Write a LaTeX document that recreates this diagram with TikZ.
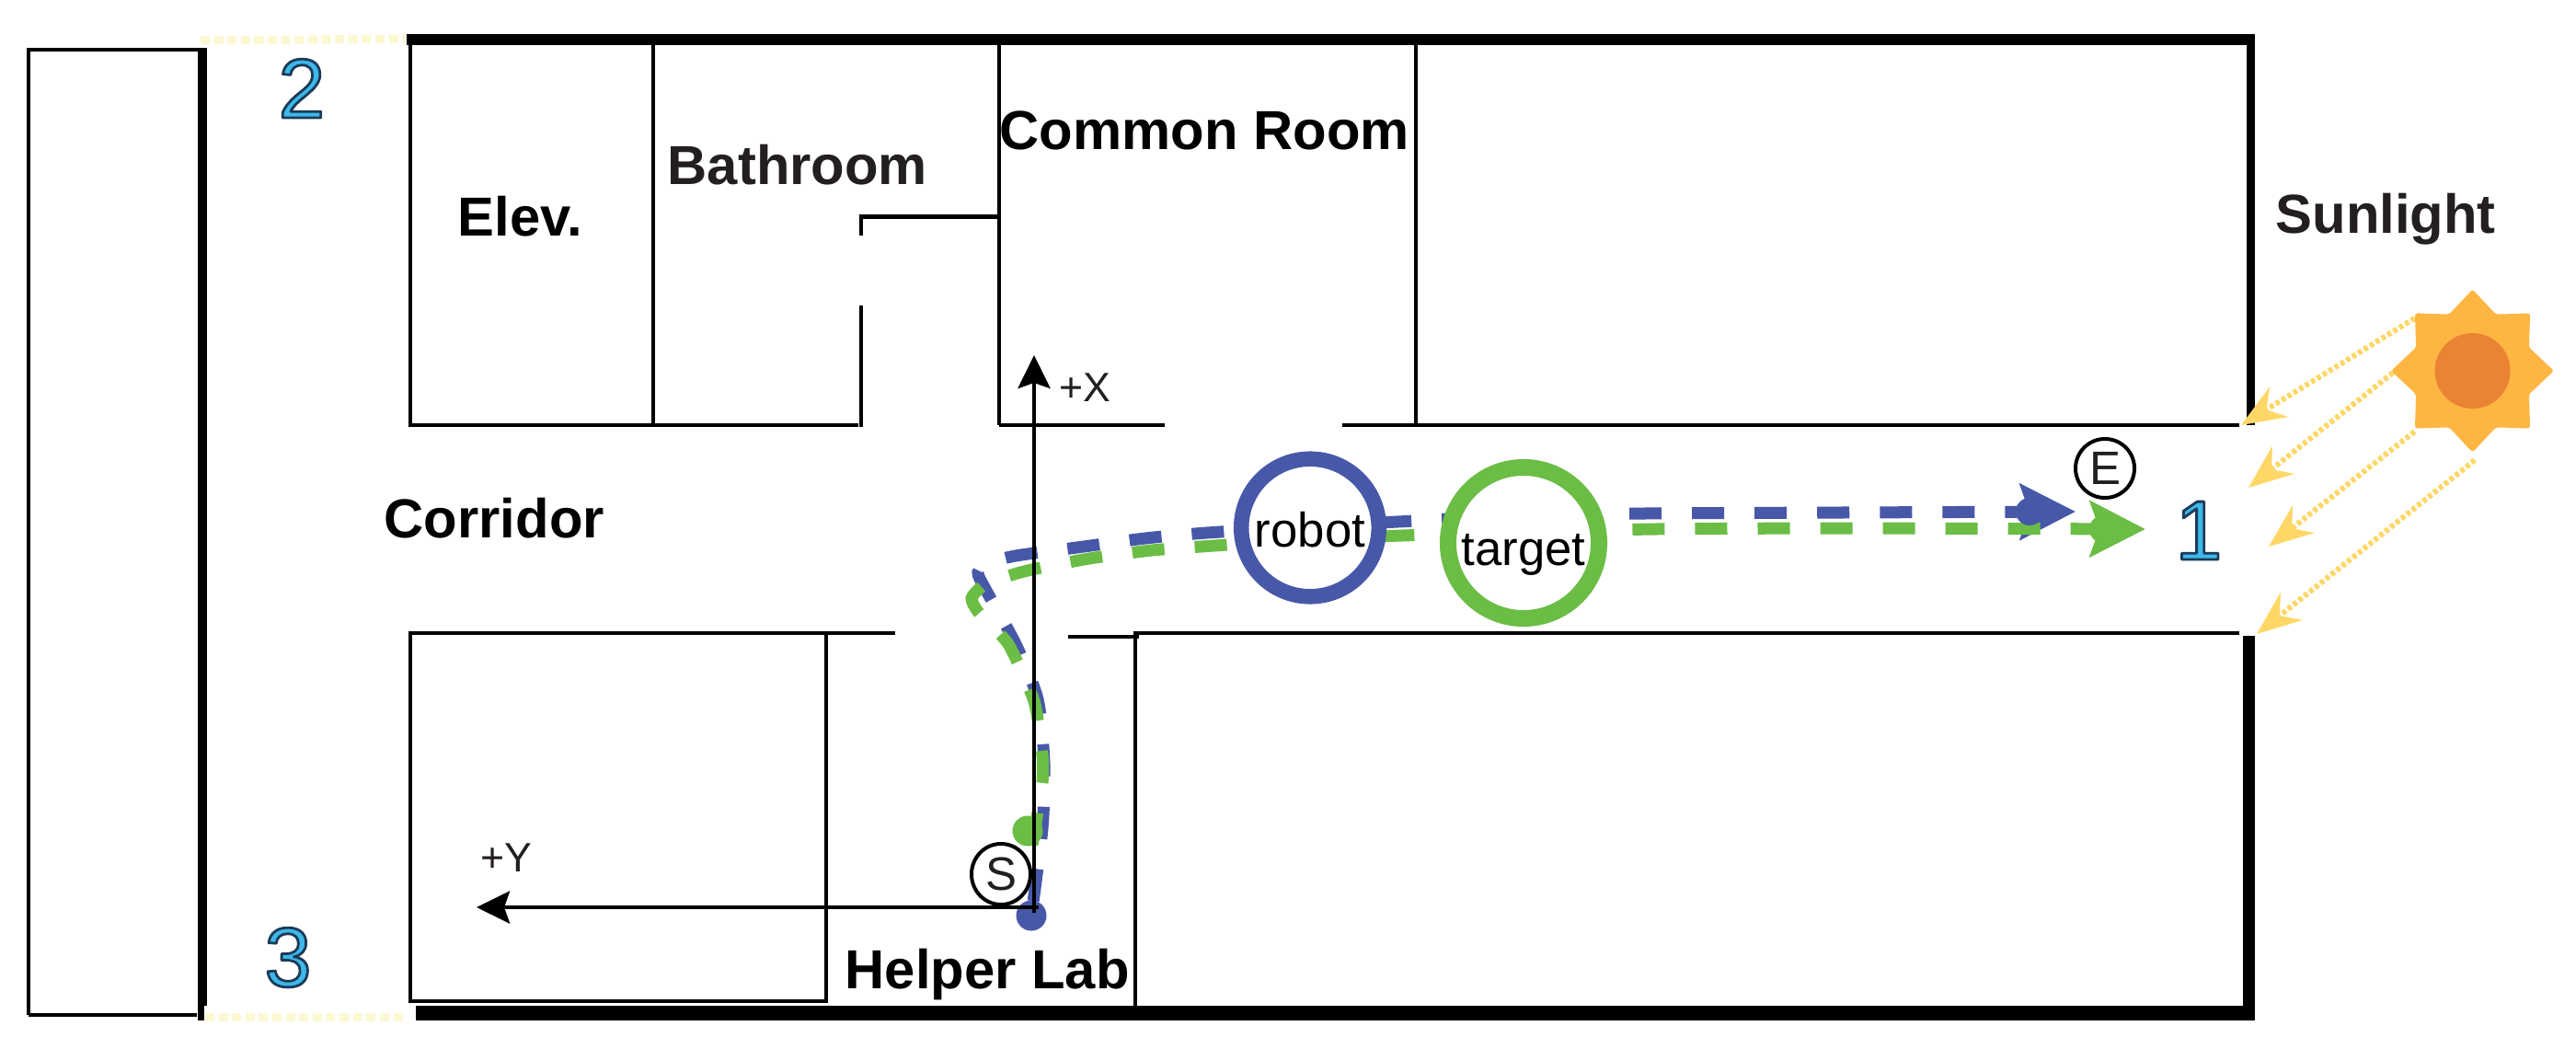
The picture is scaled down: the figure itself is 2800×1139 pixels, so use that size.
\documentclass[tikz,border=0pt]{standalone}
\usepackage{fontspec}
\setmainfont{Liberation Sans}
\usetikzlibrary{arrows.meta,shapes.geometric}

\definecolor{robotblue}{HTML}{4858A8}
\definecolor{targetgreen}{HTML}{6BBD45}
\definecolor{sunbody}{HTML}{FDB642}
\definecolor{suncore}{HTML}{EB8334}
\definecolor{rayyellow}{HTML}{FFD766}
\definecolor{opencream}{HTML}{FBF8D2}
\definecolor{spotblue}{HTML}{3DB8EA}
\definecolor{inkgray}{HTML}{231F20}

\begin{document}
\begin{tikzpicture}[x=0.01cm,y=-0.01cm]
    \tikzstyle{wall}=[draw,black,line width=0.045cm]
    \tikzstyle{thickwall}=[draw,black,line width=0.12cm]
    \tikzstyle{opening}=[draw,opencream,line width=0.09cm,dash pattern=on 0.1cm off 0.046cm]
    \tikzstyle{axis}=[draw,black,line width=0.047cm,-{Stealth[length=0.36cm,width=0.35cm,inset=0.06cm]}]
    \tikzstyle{ray}=[draw,rayyellow,line width=0.06cm,dash pattern=on 0.045cm off 0.03cm,-{Stealth[length=0.48cm,width=0.38cm,inset=0.16cm]}]
    \tikzstyle{route}=[line width=0.13cm,dash pattern=on 0.35cm off 0.33cm,-{Stealth[length=0.6cm,width=0.6cm,inset=0.1cm]}]
    \tikzstyle{dot}=[circle,inner sep=0,minimum size=0.33cm]
    \tikzstyle{agent}=[circle,draw,fill=white,inner sep=0,font=\fontsize{15}{18}\selectfont]
    \tikzstyle{endpoint}=[ellipse,draw,fill=white,inner sep=0,line width=0.04cm,text=inkgray,font=\fontsize{14.5}{17}\selectfont]
    \tikzstyle{room}=[inner sep=0,anchor=base west,font=\bfseries\fontsize{17}{20}\selectfont]
    \tikzstyle{axlabel}=[inner sep=0,anchor=base west,text=inkgray,font=\fontsize{12.7}{15}\selectfont]
    \tikzstyle{spot}=[inner sep=0,anchor=base,text=spotblue,font=\fontsize{26}{30}\selectfont]
    \newcommand{\outlined}[1]{\special{pdf:code q 2 Tr 1 j 0.8 w 0.11 0.23 0.34 RG}#1\special{pdf:code Q}}
    \newcommand{\sunray}[3]{
        \coordinate (#1a) at (#2);
        \coordinate (#1b) at (#3);
        \path[ray] (#1a) -- (#1b);
    }

    \useasboundingbox (0,0) rectangle (2800,1139);

    % openings at the corridor ends
    \path[opening] (218,44) -- (440,42);
    \path[opening] (223,1105) -- (442,1105);

    % outer building
    \path[wall] (31,1103) -- (31,54) -- (218,54);
    \path[wall] (31,1103) -- (214,1103);
    \path[wall,line width=0.1cm] (220,52) -- (220,1093);
    \path[wall,line width=0.07cm] (218,1093) -- (218,1109);
    \path[thickwall] (442,43) -- (2451,43);
    \path[thickwall,line width=0.16cm] (452,1101) -- (2451,1101);
    \path[thickwall,line width=0.095cm] (2446.5,49) -- (2446.5,462);
    \path[thickwall,line width=0.13cm] (2444.5,691) -- (2444.5,1107);

    % upper rooms
    \path[wall] (446,49) -- (446,462) -- (933,462);
    \path[wall] (710,49) -- (710,462);
    \path[wall] (936,332) -- (936,464);
    \path[wall] (936,256) -- (936,235.5) -- (1086,235.5);
    \path[wall] (1086,49) -- (1086,462);
    \path[wall] (1086,462) -- (1266,462);
    \path[wall] (1459,462) -- (2434,462);
    \path[wall] (1539,49) -- (1539,462);

    % lower rooms
    \path[wall] (973,688) -- (446,688) -- (446,1088) -- (898,1088) -- (898,688);
    \path[wall] (1161,692) -- (1238,692);
    \path[wall] (2434,688) -- (1234,688) -- (1234,1093);

    % routes
    \coordinate (bstart) at (1121,995);
    \coordinate (bend) at (2256,556);
    \coordinate (gstart) at (1122,918);
    \coordinate (gend) at (2332,575);
    \path[route,draw=robotblue,dash phase=0.52cm] plot[smooth,tension=0.45] coordinates {(bstart) (1133,900) (1135,830) (1128,760) (1104,700) (1071,640) (1063,622) (1075,612) (1104,604) (1178,594) (1245,585) (1312,579) (1424,572) (1519,567) (1656,560) (1787,558) (2000,557) (bend)};
    \path[route,draw=targetgreen] plot[smooth,tension=0.35] coordinates {(gstart) (1133,850) (1133,820) (1124,762) (1096,700) (1064,666) (1056,650) (1072,634) (1117,620) (1184,607) (1252,598) (1320,593) (1424,586) (1524,582) (1656,578) (1800,575) (2000,574) (gend)};
    \node[dot,fill=robotblue] (bdot) at (1121,995) {};
    \node[dot,fill=targetgreen] (gdot) at (1117,903) {};
    \node[dot,fill=robotblue,minimum size=0.3cm] (bhead) at (2206,556) {};
    \node[dot,fill=targetgreen,minimum size=0.3cm] (ghead) at (2286,575) {};

    \node[agent,draw=robotblue,line width=0.165cm,minimum size=1.495cm,text height=12.2pt,text depth=0pt] (robot) at (1424,573.5) {robot};
    \node[agent,draw=targetgreen,line width=0.18cm,minimum size=1.64cm,text height=14.2pt,text depth=0pt] (target) at (1656,590) {target};

    % axes
    \coordinate (xorigin) at (1124,992);
    \coordinate (xtip) at (1124,386);
    \coordinate (yorigin) at (1129,986);
    \coordinate (ytip) at (518,986);
    \path[axis] (xorigin) -- (xtip);
    \path[axis] (yorigin) -- (ytip);
    \node[axlabel] (xlabel) at (1151,436) {+X};
    \node[axlabel] (ylabel) at (522,947) {+Y};

    \node[endpoint,minimum width=0.64cm,minimum height=0.66cm] (smark) at (1088,950) {S};
    \node[endpoint,minimum width=0.64cm,minimum height=0.64cm] (emark) at (2288,509) {E};

    % sun
    \sunray{rayone}{2631,342}{2436,462}
    \sunray{raytwo}{2601,405}{2444,530}
    \sunray{raythree}{2624.5,469}{2466,594}
    \sunray{rayfour}{2690,500}{2453,689}
    \node[star,star points=8,star point ratio=1.333,fill=sunbody,inner sep=0,minimum size=1.77cm,rounded corners=0.03cm] (sun) at (2687.5,403) {};
    \node[circle,fill=suncore,inner sep=0,minimum size=0.82cm] (suncorenode) at (2687.5,403) {};

    % labels
    \node[room] (elev) at (497,256) {Elev.};
    \node[room,text=inkgray] (bathroom) at (725,200) {Bathroom};
    \node[room] (common) at (1086,162.5) {Common Room};
    \node[room] (corridor) at (417,584.5) {Corridor};
    \node[room] (helper) at (918,1074.5) {Helper Lab};
    \node[room,text=inkgray] (sunlight) at (2473,253) {Sunlight};

    \node[spot] (spotone) at (2390,608) {\outlined{1}};
    \node[spot] (spottwo) at (328,128) {\outlined{2}};
    \node[spot] (spotthree) at (313,1072) {\outlined{3}};
\end{tikzpicture}
\end{document}
